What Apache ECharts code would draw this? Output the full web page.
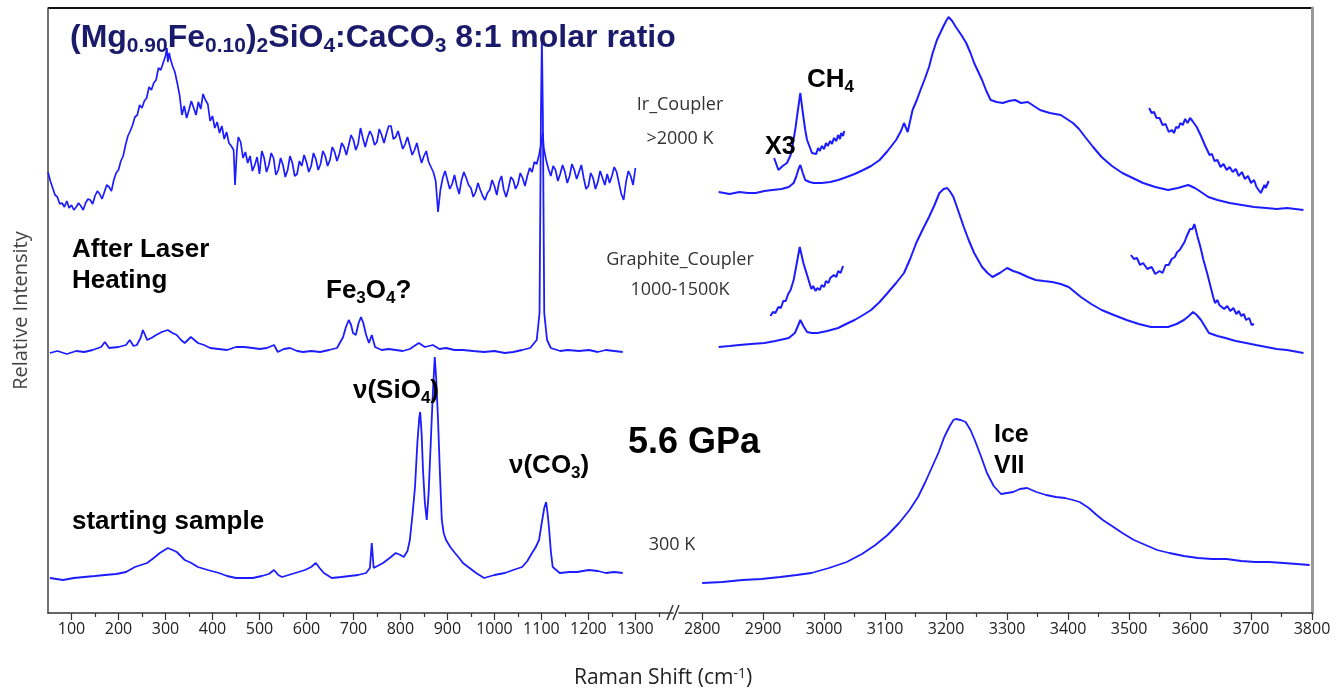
<!DOCTYPE html>
<html>
<head>
<meta charset="utf-8">
<title>Raman spectra 5.6 GPa</title>
<script src="https://cdn.jsdelivr.net/npm/echarts@6/dist/echarts.min.js"></script>
<style>
    html, body {margin: 0; padding: 0; background: #fff;}
    #chart {width: 1336px; height: 689px;}
</style>
</head>
<body>
<div id="chart"></div>
<script>
// tick values (cm-1)
var leftMajorTicks = [100, 200, 300, 400, 500, 600, 700, 800, 900, 1000, 1100, 1200, 1300];
var leftMinorTicks = [150, 250, 350, 450, 550, 650, 750, 850, 950, 1050, 1150, 1250, 1350];
var rightMajorTicks = [2800, 2900, 3000, 3100, 3200, 3300, 3400, 3500, 3600, 3700, 3800];
var rightMinorTicks = [2850, 2950, 3050, 3150, 3250, 3350, 3450, 3550, 3650, 3750];

// Ir_Coupler >2000 K, low shift region  [raman shift, relative intensity]
var irLow = [[50,441],[55,432],[60,425],[65,418],[70,416],[75,409],[80,410],[85,406],[90,412],[95,405],[100,408],[105,403],[110,406],[115,410],[120,407],[125,403],[130,410],[135,414],[140,413],[145,409],[150,417],[155,422],[160,419],[165,414],[170,421],[175,428],[180,426],[185,422],[190,433],[195,440],[200,443],[205,452],[210,457],[215,468],[220,477],[225,482],[230,488],[235,496],[240,498],[245,508],[250,505],[255,512],[260,515],[265,526],[270,523],[275,530],[280,533],[285,545],[290,543],[295,550],[300,557],[303,565],[305,551],[308,560],[310,555],[315,547],[320,541],[325,530],[330,518],[335,498],[340,507],[345,495],[350,503],[355,512],[360,505],[365,498],[370,511],[375,504],[380,519],[385,513],[390,509],[395,492],[400,497],[405,485],[410,491],[415,480],[420,487],[425,474],[430,481],[435,470],[440,467],[445,463],[448,428],[452,463],[455,476],[460,471],[465,455],[470,461],[475,450],[480,457],[485,442],[490,448],[495,456],[500,439],[505,462],[510,455],[515,441],[520,448],[525,460],[530,455],[535,438],[540,443],[545,455],[550,448],[555,436],[560,443],[565,457],[570,450],[575,437],[580,439],[585,452],[590,447],[595,458],[600,451],[605,441],[610,447],[615,460],[620,454],[625,443],[630,449],[635,462],[640,457],[645,447],[650,453],[655,466],[660,461],[665,452],[670,459],[675,470],[680,466],[685,458],[690,468],[695,478],[700,473],[705,463],[710,469],[715,485],[720,475],[725,466],[730,475],[735,482],[740,477],[745,468],[750,471],[755,484],[760,478],[765,470],[770,479],[775,487],[780,487],[785,474],[790,476],[795,482],[800,473],[805,464],[810,469],[815,476],[820,467],[825,458],[830,463],[835,470],[840,459],[845,450],[850,457],[855,462],[860,451],[865,446],[870,441],[875,432],[880,401],[885,423],[890,435],[895,442],[900,433],[905,424],[910,429],[915,438],[920,427],[925,419],[930,433],[935,441],[940,435],[945,428],[950,425],[955,416],[960,421],[965,430],[970,423],[975,417],[980,413],[985,420],[990,423],[995,433],[1000,427],[1005,418],[1010,431],[1015,437],[1020,423],[1025,416],[1030,425],[1035,436],[1040,433],[1045,424],[1050,429],[1055,440],[1060,435],[1065,427],[1070,437],[1075,445],[1080,441],[1085,451],[1090,449],[1095,458],[1100,471],[1103,480],[1105,465],[1110,453],[1115,444],[1120,437],[1125,447],[1130,443],[1135,432],[1140,439],[1145,448],[1150,441],[1155,430],[1160,437],[1165,449],[1170,443],[1175,434],[1180,441],[1185,448],[1190,435],[1195,424],[1200,427],[1205,440],[1210,435],[1215,424],[1220,431],[1225,442],[1230,435],[1235,428],[1240,439],[1245,430],[1250,437],[1255,446],[1260,441],[1265,430],[1270,419],[1275,413],[1280,431],[1285,442],[1290,437],[1295,428],[1300,445]];
// Graphite_Coupler 1000-1500K (after laser heating), low shift region
var graphiteLow = [[54,260],[70,262],[90,259],[110,262],[127,261],[145,263],[163,266],[171,271],[180,265],[200,266],[216,268],[224,273],[232,267],[239,268],[247,275],[252,283],[261,273],[270,275],[280,278],[292,281],[305,283],[315,280],[324,278],[333,273],[341,270],[354,276],[369,270],[382,268],[395,265],[413,264],[431,263],[450,266],[467,266],[486,265],[500,264],[516,265],[531,268],[539,261],[552,264],[565,265],[580,262],[593,261],[610,262],[629,261],[648,263],[665,265],[678,276],[684,286],[690,293],[695,288],[699,280],[705,278],[711,290],[716,296],[721,290],[727,278],[733,270],[739,278],[746,266],[760,263],[775,264],[790,263],[805,262],[820,264],[839,270],[852,266],[869,268],[883,264],[897,265],[915,263],[933,263],[955,262],[978,261],[1000,262],[1022,260],[1040,261],[1059,263],[1076,265],[1090,273],[1096,300],[1099,500],[1101,575],[1103,500],[1106,300],[1112,273],[1120,265],[1140,262],[1156,263],[1180,262],[1201,263],[1220,261],[1237,263],[1255,262],[1273,261]];
// starting sample 300 K, low shift region
var startLow = [[54,35],[82,33],[105,35],[127,36],[150,37],[171,38],[195,39],[216,41],[235,46],[261,50],[275,55],[288,60],[305,65],[315,63],[324,61],[341,53],[355,50],[369,46],[390,43],[414,40],[431,37],[450,35],[468,35],[486,35],[505,37],[520,39],[531,43],[540,38],[548,36],[562,38],[576,40],[597,43],[610,46],[620,50],[628,45],[637,40],[654,35],[674,36],[692,37],[710,38],[727,40],[735,45],[739,70],[743,45],[746,43],[763,50],[777,55],[790,60],[800,58],[807,56],[815,62],[820,73],[826,100],[831,126],[836,170],[840,195],[842,201],[845,180],[848,143],[852,110],[856,93],[860,120],[865,176],[869,220],[873,256],[876,235],[880,193],[884,140],[888,93],[892,80],[897,73],[906,66],[916,60],[925,55],[933,50],[947,45],[961,40],[978,35],[1000,38],[1022,40],[1040,43],[1059,46],[1070,52],[1080,60],[1088,66],[1095,73],[1100,88],[1106,105],[1110,111],[1113,100],[1116,86],[1120,62],[1124,46],[1139,40],[1160,41],[1176,41],[1201,43],[1220,42],[1237,40],[1255,41],[1273,40]];

// high shift region
var irHigh = [[2827,421],[2845,419],[2861,421],[2875,420],[2888,420],[2902,422],[2915,423],[2930,424],[2942,426],[2950,430],[2954,436],[2958,444],[2961,448],[2965,440],[2969,433],[2976,431],[2983,430],[2996,430],[3010,431],[3023,433],[3037,436],[3050,439],[3064,443],[3077,447],[3091,453],[3104,462],[3118,473],[3126,482],[3131,490],[3137,481],[3141,492],[3145,503],[3152,513],[3158,523],[3165,534],[3172,546],[3178,560],[3185,573],[3195,586],[3200,592],[3204,596],[3210,592],[3216,586],[3225,578],[3233,570],[3240,560],[3246,550],[3259,533],[3266,522],[3273,513],[3283,511],[3293,510],[3303,512],[3313,513],[3323,510],[3334,511],[3344,507],[3354,503],[3370,500],[3388,498],[3398,494],[3408,490],[3418,484],[3428,476],[3441,466],[3455,456],[3472,447],[3489,440],[3506,435],[3523,430],[3543,426],[3564,423],[3580,425],[3597,428],[3608,425],[3618,421],[3630,416],[3645,413],[3665,410],[3685,408],[3705,406],[3725,405],[3742,404],[3759,405],[3786,403]];
var irCh4X3 = [[2918,455],[2925,443],[2932,447],[2939,450],[2945,458],[2949,470],[2953,485],[2957,503],[2961,520],[2963,510],[2966,496],[2969,483],[2972,473],[2977,465],[2980,460],[2983,462],[2987,459],[2990,465],[2993,462],[2996,467],[3000,464],[3003,470],[3006,467],[3010,472],[3013,469],[3016,475],[3020,472],[3023,478],[3026,474],[3028,480],[3031,477],[3033,482]];
var irOhX3 = [[3533,505],[3537,500],[3541,501],[3545,495],[3550,495],[3555,488],[3560,489],[3565,481],[3570,483],[3574,480],[3577,486],[3581,485],[3584,490],[3588,488],[3592,494],[3596,490],[3600,495],[3604,492],[3607,492],[3611,486],[3614,486],[3618,477],[3621,477],[3625,467],[3628,467],[3632,458],[3636,459],[3640,452],[3645,453],[3650,446],[3655,449],[3660,443],[3665,446],[3670,441],[3675,444],[3680,437],[3685,441],[3690,434],[3695,437],[3700,430],[3705,433],[3709,426],[3712,428],[3716,420],[3719,421],[3722,428],[3724,425],[3729,432]];
var graphiteHigh = [[2827,266],[2845,267],[2861,268],[2880,269],[2902,270],[2920,272],[2942,275],[2952,280],[2957,287],[2961,293],[2966,287],[2972,281],[2980,280],[2989,280],[3005,282],[3023,285],[3036,289],[3050,293],[3064,298],[3077,303],[3091,311],[3104,320],[3118,330],[3131,340],[3141,354],[3151,370],[3162,384],[3172,396],[3181,408],[3189,420],[3196,424],[3202,425],[3207,421],[3212,416],[3220,402],[3229,386],[3237,373],[3246,360],[3259,346],[3268,340],[3276,336],[3288,340],[3300,345],[3310,342],[3320,340],[3334,336],[3347,333],[3360,332],[3374,331],[3388,329],[3401,326],[3411,321],[3421,316],[3438,309],[3455,303],[3475,298],[3496,293],[3516,289],[3536,286],[3550,286],[3564,286],[3578,289],[3590,293],[3598,297],[3605,301],[3611,298],[3618,293],[3624,287],[3631,280],[3645,277],[3658,275],[3675,272],[3692,270],[3708,268],[3725,266],[3742,264],[3759,263],[3786,260]];
var graphiteCh4X3 = [[2912,297],[2916,301],[2920,300],[2925,306],[2929,305],[2933,312],[2937,312],[2941,319],[2945,323],[2950,333],[2954,346],[2957,356],[2960,366],[2963,358],[2966,350],[2971,340],[2976,330],[2979,324],[2982,327],[2986,322],[2989,325],[2993,323],[2996,328],[3000,326],[3003,332],[3007,330],[3010,335],[3013,333],[3016,338],[3020,336],[3023,342],[3027,340],[3031,347]];
var graphiteOhX3 = [[3503,358],[3508,354],[3513,355],[3518,348],[3523,350],[3530,344],[3537,346],[3543,339],[3550,342],[3555,340],[3560,348],[3565,348],[3570,354],[3575,356],[3579,361],[3583,363],[3587,367],[3591,371],[3594,376],[3597,380],[3600,384],[3604,384],[3607,389],[3610,382],[3612,377],[3617,366],[3622,353],[3628,340],[3633,328],[3638,316],[3641,310],[3645,313],[3648,308],[3651,310],[3656,304],[3661,307],[3666,302],[3671,305],[3676,299],[3680,302],[3684,297],[3688,299],[3692,293],[3697,295],[3701,288],[3705,289]];
var startHigh = [[2800,30],[2833,31],[2866,33],[2897,34],[2928,36],[2955,38],[2979,40],[3008,45],[3037,51],[3062,59],[3084,68],[3104,78],[3123,90],[3140,103],[3154,116],[3166,131],[3177,146],[3188,161],[3197,176],[3206,187],[3212,193],[3216,194],[3224,193],[3232,191],[3240,183],[3247,173],[3257,157],[3267,140],[3278,127],[3290,119],[3300,120],[3310,121],[3321,124],[3333,125],[3348,121],[3364,118],[3380,116],[3395,115],[3408,113],[3419,111],[3434,105],[3445,99],[3457,93],[3472,87],[3489,80],[3508,73],[3527,68],[3546,63],[3566,60],[3590,57],[3613,55],[3636,54],[3660,54],[3684,52],[3707,51],[3730,51],[3753,50],[3775,49],[3796,48]];

var BLUE = '#1c1cff';
var AXIS = '#333';
var TICKFONT = 'Open Sans';
var BOLDFONT = 'Liberation Sans';

var chart = echarts.init(document.getElementById('chart'));

function spectrum(data, side, width) {
    return {
        type: 'line',
        data: data,
        xAxisIndex: side * 2,
        yAxisIndex: side,
        symbol: 'none',
        silent: true,
        lineStyle: {color: BLUE, width: width || 1.8},
        z: 3
    };
}

function xAxisPair(grid, min, max, major, minor) {
    return [{
        type: 'value', gridIndex: grid, position: 'bottom', min: min, max: max,
        axisLine: {lineStyle: {color: AXIS, width: 1.5}},
        axisTick: {customValues: major, length: 7, lineStyle: {color: AXIS, width: 1.2}},
        axisLabel: {
            customValues: major, margin: 8, fontSize: 16, color: '#222', fontFamily: TICKFONT,
            formatter: function (v) { return String(v); }
        },
        splitLine: {show: false}
    }, {
        type: 'value', gridIndex: grid, position: 'bottom', min: min, max: max,
        axisLine: {show: false},
        axisTick: {customValues: minor, length: 4, lineStyle: {color: AXIS, width: 1.2}},
        axisLabel: {show: false},
        splitLine: {show: false}
    }];
}

// bold label with optional subscripts: parts = [[text, isSub], ...]
function boldLabel(x, y, parts, size, color) {
    var txt = '';
    for (var i = 0; i < parts.length; i++) {
        txt += '{' + (parts[i][1] ? 's' : 'm') + '|' + parts[i][0] + '}';
    }
    var sub = Math.round(size * 0.66);
    return {
        type: 'text', x: x, y: y, z: 10, silent: true,
        style: {
            text: txt,
            align: 'left',
            verticalAlign: 'middle',
            rich: {
                m: {fontSize: size, fontWeight: 'bold', fontFamily: BOLDFONT, fill: color, color: color, lineHeight: size * 1.2},
                s: {fontSize: sub, fontWeight: 'bold', fontFamily: BOLDFONT, fill: color, color: color,
                    verticalAlign: 'bottom', lineHeight: sub}
            }
        }
    };
}

function plainLabel(x, y, text, size) {
    return {
        type: 'text', x: x, y: y, z: 10, silent: true,
        style: {text: text, fontSize: size, fontFamily: TICKFONT, fill: '#333', align: 'center', verticalAlign: 'middle'}
    };
}

var option = {
    backgroundColor: '#fff',
    animation: false,
    grid: [
        {left: 48, top: 8, width: 625, bottom: 76},
        {left: 679, top: 8, right: 24, bottom: 76}
    ],
    xAxis: xAxisPair(0, 50, 1380, leftMajorTicks, leftMinorTicks)
        .concat(xAxisPair(1, 2762, 3800, rightMajorTicks, rightMinorTicks)),
    yAxis: [{
        type: 'value', gridIndex: 0, min: 0, max: 605,
        name: 'Relative Intensity', nameLocation: 'middle', nameGap: 17,
        nameTextStyle: {fontSize: 20, color: '#444', fontFamily: TICKFONT},
        axisLine: {show: true, lineStyle: {color: '#444', width: 1.5}},
        axisTick: {show: false}, axisLabel: {show: false}, splitLine: {show: false}
    }, {
        type: 'value', gridIndex: 1, min: 0, max: 605, position: 'right',
        axisLine: {show: true, lineStyle: {color: '#999', width: 3}},
        axisTick: {show: false}, axisLabel: {show: false}, splitLine: {show: false}
    }],
    series: [
        spectrum(irLow, 0, 1.7),
        spectrum(graphiteLow, 0),
        spectrum(startLow, 0),
        spectrum(irHigh, 1, 2),
        spectrum(irCh4X3, 1, 2),
        spectrum(irOhX3, 1, 2),
        spectrum(graphiteHigh, 1, 2),
        spectrum(graphiteCh4X3, 1, 2),
        spectrum(graphiteOhX3, 1, 2),
        spectrum(startHigh, 1)
    ],
    graphic: [
        // top frame line
        {type: 'line', shape: {x1: 48, y1: 8, x2: 1312, y2: 8}, style: {stroke: '#111', lineWidth: 2}, silent: true},
        // axis break marks
        {type: 'rect', shape: {x: 672, y: 609, width: 8, height: 8}, style: {fill: '#fff'}, silent: true},
        {type: 'line', shape: {x1: 667, y1: 620, x2: 673, y2: 605}, style: {stroke: AXIS, lineWidth: 1.4}, silent: true},
        {type: 'line', shape: {x1: 673, y1: 620, x2: 679, y2: 605}, style: {stroke: AXIS, lineWidth: 1.4}, silent: true},
        // x axis title
        {
            type: 'text', x: 663, y: 678, silent: true,
            style: {
                text: '{a|Raman Shift (cm}{b|-1}{a|)}', align: 'center', verticalAlign: 'middle',
                rich: {
                    a: {fontSize: 21, fontFamily: TICKFONT, fill: '#222', color: '#222'},
                    b: {fontSize: 14, fontFamily: TICKFONT, fill: '#222', color: '#222', verticalAlign: 'top'}
                }
            }
        },
        boldLabel(70, 38, [['(Mg'], ['0.90', 1], ['Fe'], ['0.10', 1], [')'], ['2', 1], ['SiO'], ['4', 1],
            [':CaCO'], ['3', 1], [' 8:1 molar ratio']], 32, '#1b1b6b'),
        plainLabel(680, 105, 'Ir_Coupler', 18),
        plainLabel(680, 139, '>2000 K', 18),
        plainLabel(680, 260, 'Graphite_Coupler', 18),
        plainLabel(680, 290, '1000-1500K', 18),
        plainLabel(672, 545, '300 K', 18),
        boldLabel(807, 80, [['CH'], ['4', 1]], 26, '#000'),
        boldLabel(765, 147, [['X3']], 25, '#000'),
        boldLabel(72, 250, [['After Laser']], 26, '#000'),
        boldLabel(72, 281, [['Heating']], 26, '#000'),
        boldLabel(326, 291, [['Fe'], ['3', 1], ['O'], ['4', 1], ['?']], 26, '#000'),
        boldLabel(353, 391, [['\u03bd(SiO'], ['4', 1], [')']], 26, '#000'),
        boldLabel(509, 466, [['\u03bd(CO'], ['3', 1], [')']], 26, '#000'),
        boldLabel(628, 443, [['5.6 GPa']], 36, '#000'),
        boldLabel(994, 435, [['Ice']], 25, '#000'),
        boldLabel(994, 466, [['VII']], 25, '#000'),
        boldLabel(72, 522, [['starting sample']], 26, '#000')
    ]
};

chart.setOption(option);
</script>
</body>
</html>
